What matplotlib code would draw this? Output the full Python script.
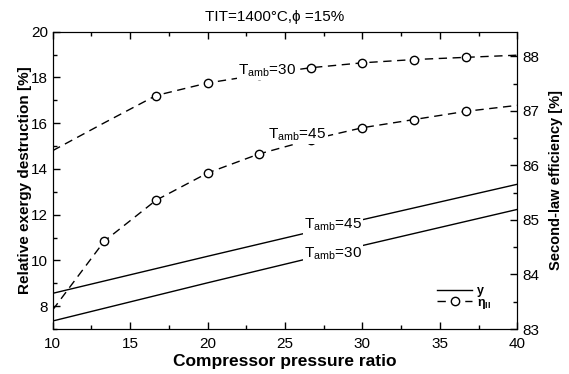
import matplotlib.pyplot as plt
from matplotlib.lines import Line2D
from matplotlib.ticker import MultipleLocator

plt.rcParams['font.family'] = ['Liberation Sans', 'DejaVu Sans']
plt.rcParams['mathtext.fontset'] = 'custom'
plt.rcParams['mathtext.rm'] = 'Liberation Sans'
plt.rcParams['mathtext.it'] = 'Liberation Sans'
plt.rcParams['mathtext.bf'] = 'Liberation Sans:bold'

# compressor pressure ratio
pr_solid = [10, 20, 30, 40]
# relative exergy destruction [%] (left axis)
y_45 = [8.56, 10.18, 11.78, 13.33]
y_30 = [7.35, 9.02, 10.65, 12.23]

# second-law efficiency [%] (right axis)
pr_eff = [10, 13.33, 16.67, 20, 23.33, 26.67, 30, 33.33, 36.67, 40]
eta_30 = [86.27, 86.78, 87.28, 87.51, 87.66, 87.79, 87.88, 87.94, 87.98, 88.02]
eta_45 = [83.35, 84.61, 85.36, 85.86, 86.21, 86.47, 86.69, 86.84, 86.99, 87.10]

fig = plt.figure(figsize=(5.69, 3.74), dpi=100)
ax = fig.add_axes([0.0926, 0.1203, 0.8166, 0.7949])
ax2 = ax.twinx()

ax.plot(pr_solid, y_45, color='black', lw=1.0)
ax.plot(pr_solid, y_30, color='black', lw=1.0)

dash = dict(color='black', lw=1.0, dashes=(6, 4), marker='o', ms=6,
            mfc='white', mec='black', mew=1.0)
ax2.plot(pr_eff, eta_30, markevery=[2, 3, 4, 5, 6, 7, 8], **dash)
ax2.plot(pr_eff, eta_45, markevery=[1, 2, 3, 4, 5, 6, 7, 8], **dash)

ax.set_xlim(10, 40)
ax.set_ylim(7, 20)
ax2.set_ylim(83, 88.45)

ax.xaxis.set_major_locator(MultipleLocator(5))
ax.xaxis.set_minor_locator(MultipleLocator(2.5))
ax.yaxis.set_major_locator(MultipleLocator(2))
ax.yaxis.set_minor_locator(MultipleLocator(1))
ax2.yaxis.set_major_locator(MultipleLocator(1))
ax2.yaxis.set_minor_locator(MultipleLocator(0.5))

ax.tick_params(axis='x', which='both', direction='in', top=True, labelsize=11, pad=6)
ax.tick_params(axis='y', which='both', direction='in', right=False, labelsize=11)
ax.tick_params(which='major', length=5, width=1)
ax.tick_params(which='minor', length=3, width=1)
ax2.tick_params(which='both', direction='in', labelsize=11, width=1)
ax2.tick_params(which='major', length=5)
ax2.tick_params(which='minor', length=3)

ax.set_xlabel('Compressor pressure ratio', fontsize=12.5, fontweight='bold', labelpad=2)
ax.set_ylabel('Relative exergy destruction [%]', fontsize=11, fontweight='bold', labelpad=-0.5)
ax2.set_ylabel('Second-law efficiency [%]', fontsize=10.5, fontweight='bold', labelpad=7)

lab = dict(fontsize=11, ha='center', va='center',
           bbox=dict(facecolor='white', edgecolor='none', pad=1.0))
ax.text(28.1, 11.55, r'T$_{\mathrm{amb}}$=45', **lab)
ax.text(28.1, 10.3, r'T$_{\mathrm{amb}}$=30', **lab)
ax2.text(23.85, 87.74, r'T$_{\mathrm{amb}}$=30', **lab)
ax2.text(25.8, 86.56, r'T$_{\mathrm{amb}}$=45', **lab)

fig.text(0.482, 0.955, 'TIT=1400°C,ϕ =15%', fontsize=11, ha='center', va='center')

handles = [Line2D([], [], color='black', lw=1.0),
           Line2D([], [], **dash)]
ax2.legend(handles, ['y', r'$\mathbf{\eta_{II}}$'], loc='lower right',
           bbox_to_anchor=(0.955, 0.045), frameon=False,
           prop={'size': 9, 'weight': 'bold'},
           handlelength=2.8, handletextpad=0.4, labelspacing=-0.05,
           borderaxespad=0)

fig.savefig('out.png', dpi=100)
